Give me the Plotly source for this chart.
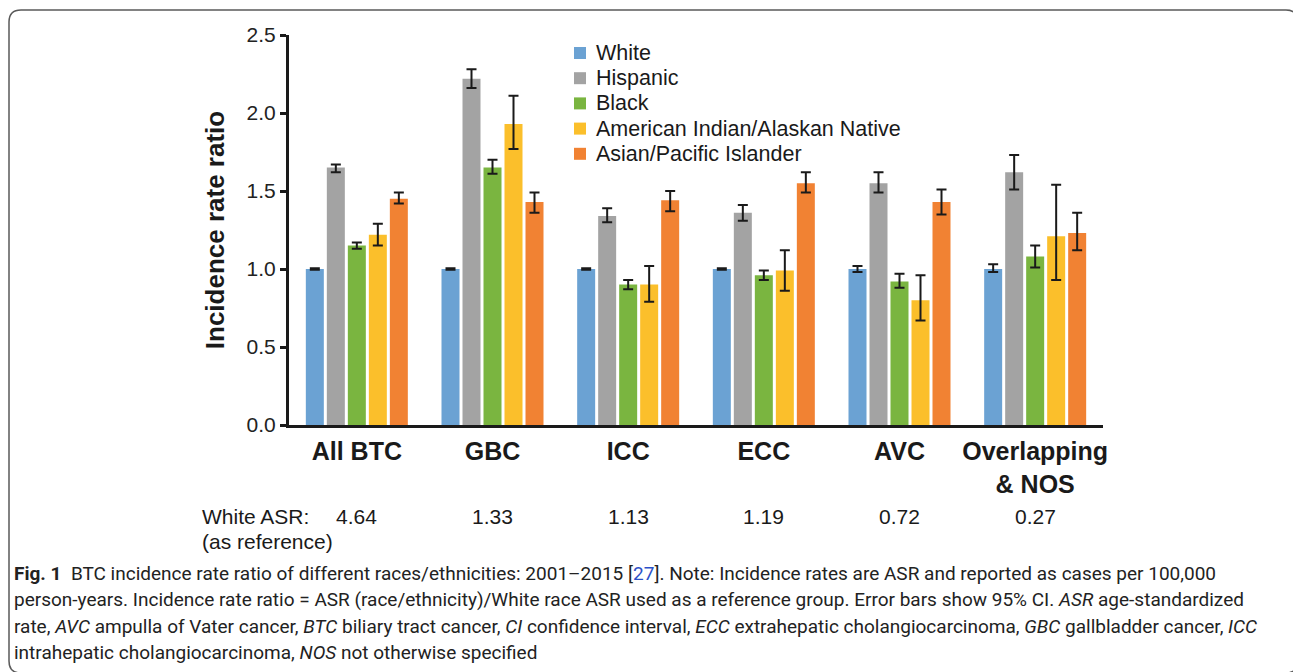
import plotly.graph_objects as go

# Categories (biliary tract cancer sites)
categories = ["All BTC", "GBC", "ICC", "ECC", "AVC", "Overlapping & NOS"]
category_labels = ["All BTC", "GBC", "ICC", "ECC", "AVC", "Overlapping<br>& NOS"]
white_asr = ["4.64", "1.33", "1.13", "1.19", "0.72", "0.27"]

# Incidence rate ratio and 95% CI per race/ethnicity
white = [1.00, 1.00, 1.00, 1.00, 1.00, 1.00]
white_lo = [0.995, 0.995, 0.995, 0.995, 0.98, 0.98]
white_hi = [1.005, 1.005, 1.005, 1.005, 1.02, 1.03]

hispanic = [1.65, 2.22, 1.34, 1.36, 1.55, 1.62]
hispanic_lo = [1.62, 2.16, 1.30, 1.31, 1.49, 1.51]
hispanic_hi = [1.67, 2.28, 1.39, 1.41, 1.62, 1.73]

black = [1.15, 1.65, 0.90, 0.96, 0.92, 1.08]
black_lo = [1.13, 1.61, 0.87, 0.93, 0.88, 1.01]
black_hi = [1.17, 1.70, 0.93, 0.99, 0.97, 1.15]

aian = [1.22, 1.93, 0.90, 0.99, 0.80, 1.21]
aian_lo = [1.15, 1.77, 0.79, 0.86, 0.67, 0.93]
aian_hi = [1.29, 2.11, 1.02, 1.12, 0.96, 1.54]

api = [1.45, 1.43, 1.44, 1.55, 1.43, 1.23]
api_lo = [1.42, 1.36, 1.37, 1.49, 1.35, 1.12]
api_hi = [1.49, 1.49, 1.50, 1.62, 1.51, 1.36]

series = [
    ("White", white, white_lo, white_hi, "#6BA2D3"),
    ("Hispanic", hispanic, hispanic_lo, hispanic_hi, "#A3A3A3"),
    ("Black", black, black_lo, black_hi, "#7AB540"),
    ("American Indian/Alaskan Native", aian, aian_lo, aian_hi, "#FBBF2B"),
    ("Asian/Pacific Islander", api, api_lo, api_hi, "#F18233"),
]

W, H = 1293, 672
ML, MR, MT, MB = 289, 190, 35, 247
PW, PH = W - ML - MR, H - MT - MB
FONT = "Liberation Sans, Arial, Helvetica, sans-serif"
CAP_FONT = "Roboto, Liberation Sans, Arial, sans-serif"
INK = "#1a1a1a"


def px_x(px):
    return (px - ML) / PW


def px_y(py):
    return (H - MB - py) / PH


fig = go.Figure()
for name, vals, lo, hi, color in series:
    fig.add_trace(go.Bar(
        name=name,
        x=categories,
        y=vals,
        marker=dict(color=color, line=dict(width=0)),
        error_y=dict(
            type="data", symmetric=False,
            array=[h - v for h, v in zip(hi, vals)],
            arrayminus=[v - l for v, l in zip(vals, lo)],
            color=INK, thickness=2, width=5,
        ),
        showlegend=False,
    ))

annotations = []
shapes = []

# Legend: colour swatches with series names
for i, (name, _, _, _, color) in enumerate(series):
    cy = 53 + 25.2 * i
    shapes.append(dict(type="rect", xref="paper", yref="paper",
                       x0=px_x(574), x1=px_x(586), y0=px_y(cy + 6), y1=px_y(cy - 6),
                       fillcolor=color, line=dict(width=0)))
    annotations.append(dict(x=px_x(594), y=px_y(cy), xref="paper", yref="paper",
                            text=name, showarrow=False,
                            font=dict(family=FONT, size=21.5, color=INK),
                            xanchor="left", yanchor="middle"))

# White ASR row under the axis
annotations += [
    dict(x=cat, y=px_y(516), xref="x", yref="paper", text=val, showarrow=False,
         font=dict(family=FONT, size=21, color=INK), xanchor="center", yanchor="middle")
    for cat, val in zip(categories, white_asr)
]
annotations += [
    dict(x=px_x(200), y=px_y(516), xref="paper", yref="paper", text="White ASR:",
         showarrow=False, font=dict(family=FONT, size=21, color=INK),
         xanchor="left", yanchor="middle"),
    dict(x=px_x(200), y=px_y(541), xref="paper", yref="paper", text="(as reference)",
         showarrow=False, font=dict(family=FONT, size=21, color=INK),
         xanchor="left", yanchor="middle"),
]

# Figure caption
caption_lines = [
    "<b>Fig. 1</b>  BTC incidence rate ratio of different races/ethnicities: 2001–2015 "
    "[<span style='color:#2b50c8'>27</span>]. Note: Incidence rates are ASR and reported as cases per 100,000",
    "person-years. Incidence rate ratio = ASR (race/ethnicity)/White race ASR used as a reference group. "
    "Error bars show 95% CI. <i>ASR</i> age-standardized",
    "rate, <i>AVC</i> ampulla of Vater cancer, <i>BTC</i> biliary tract cancer, <i>CI</i> confidence interval, "
    "<i>ECC</i> extrahepatic cholangiocarcinoma, <i>GBC</i> gallbladder cancer, <i>ICC</i>",
    "intrahepatic cholangiocarcinoma, <i>NOS</i> not otherwise specified",
]
for i, line in enumerate(caption_lines):
    annotations.append(dict(
        x=px_x(12), y=px_y(573 + 26.5 * i), xref="paper", yref="paper", text=line,
        showarrow=False, font=dict(family=CAP_FONT, size=19, color="#222222"),
        xanchor="left", yanchor="middle",
    ))

# Rounded frame around chart and caption
r = 12
x0, x1 = 9, 1298
y0, y1 = 10, 673
frame = (
    f"M {px_x(x0)},{px_y(y1 - r)} "
    f"L {px_x(x0)},{px_y(y0 + r)} "
    f"Q {px_x(x0)},{px_y(y0)} {px_x(x0 + r)},{px_y(y0)} "
    f"L {px_x(x1 - r)},{px_y(y0)} "
    f"Q {px_x(x1)},{px_y(y0)} {px_x(x1)},{px_y(y0 + r)} "
    f"L {px_x(x1)},{px_y(y1 - r)} "
    f"Q {px_x(x1)},{px_y(y1)} {px_x(x1 - r)},{px_y(y1)} "
    f"L {px_x(x0 + r)},{px_y(y1)} "
    f"Q {px_x(x0)},{px_y(y1)} {px_x(x0)},{px_y(y1 - r)} Z"
)
shapes.append(dict(type="path", path=frame, xref="paper", yref="paper",
                   line=dict(color="#5a5a5a", width=1.5), fillcolor="rgba(0,0,0,0)",
                   layer="below"))

fig.update_layout(
    width=W, height=H,
    margin=dict(l=ML, r=MR, t=MT, b=MB, pad=0),
    paper_bgcolor="white", plot_bgcolor="white",
    barmode="group", bargap=0.226, bargroupgap=0.143,
    font=dict(family=FONT, color=INK),
    showlegend=False,
    annotations=annotations,
    shapes=shapes,
)

fig.update_xaxes(
    type="category", categoryorder="array", categoryarray=categories,
    tickmode="array", tickvals=categories, ticktext=category_labels,
    range=[-0.5, 5.5],
    showline=True, linewidth=3, linecolor=INK,
    ticks="outside", ticklen=2, tickcolor="rgba(0,0,0,0)",
    tickfont=dict(family=FONT, size=25, color=INK, weight="bold"),
    showgrid=False, zeroline=False, fixedrange=True,
)
fig.update_yaxes(
    range=[0, 2.5], tickmode="linear", tick0=0, dtick=0.5, tickformat=".1f",
    showline=True, linewidth=3, linecolor=INK,
    ticks="outside", ticklen=6, tickwidth=2.5, tickcolor=INK,
    tickfont=dict(family=FONT, size=21, color="#222222"),
    title=dict(text="Incidence rate ratio", standoff=15,
               font=dict(family=FONT, size=26, color=INK, weight="bold")),
    showgrid=False, zeroline=False, fixedrange=True,
)

fig.write_html("out.html")
